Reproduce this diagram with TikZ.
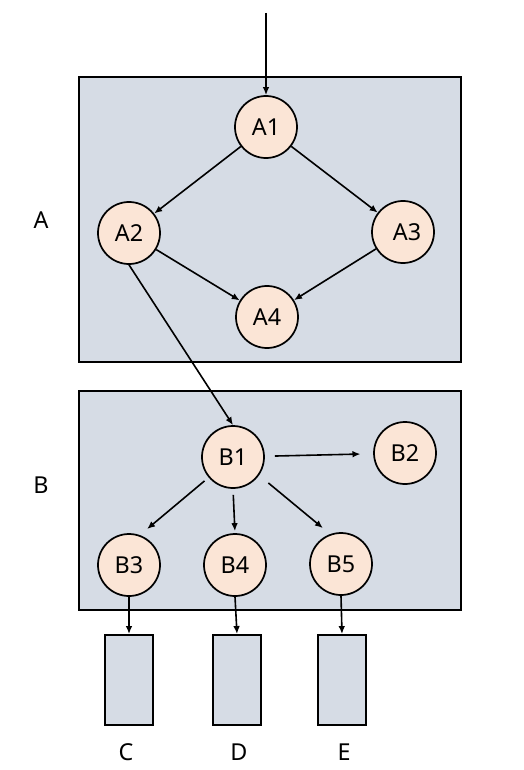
\documentclass[tikz,border=0pt]{standalone}
\usepackage{fontspec}
\setmainfont{Noto Sans}
\usetikzlibrary{arrows.meta}
\definecolor{boxfill}{HTML}{D6DCE5}
\definecolor{nodefill}{HTML}{FBE5D6}

\begin{document}
\begin{tikzpicture}[x=0.75pt,y=-0.75pt,
	state/.style={circle,draw=black,line width=1.3pt,fill=nodefill,minimum size=46.5pt,inner sep=0pt,font=\fontsize{17.5}{20}\selectfont},
	group/.style={draw=black,line width=1.6pt,fill=boxfill},
	outbox/.style={rectangle,draw=black,line width=1.4pt,fill=boxfill,minimum width=36pt,minimum height=67.5pt,inner sep=0pt},
	tag/.style={font=\fontsize{17.5}{20}\selectfont},
	link/.style={-{Latex[length=6pt,width=5pt]},line width=1.2pt}]
	\useasboundingbox (0,0) rectangle (524,770);
	% groups
	\draw[group] (79,77) rectangle (461,362);
	\draw[group] (79,391) rectangle (461,610);
	\node[tag] (labA) at (41,220) {A};
	\node[tag] (labB) at (41,485) {B};
	% states of A
	\coordinate (in) at (266,13);
	\node[state] (A1) at (266,127) {A1};
	\node[state] (A2) at (129,233) {A2};
	\node[state] (A3) at (403,232) {\hspace{6pt}A3};
	\node[state] (A4) at (267,317) {A4};
	% states of B
	\node[state] (B1) at (233,457) {B1};
	\node[state] (B2) at (405,453) {B2};
	\node[state] (B3) at (129,565) {B3};
	\node[state] (B4) at (235,565) {B4};
	\node[state] (B5) at (341,564) {B5};
	% outputs
	\node[outbox] (C) at (129,680) {};
	\node[outbox] (D) at (237,680) {};
	\node[outbox] (E) at (342,680) {};
	\node[tag] (labC) at (126,752) {C};
	\node[tag] (labD) at (239,752) {D};
	\node[tag] (labE) at (344,752) {E};
	% links
	\draw[link] (in) -- (A1);
	\draw[link] (A1) -- (A2);
	\draw[link] (A1) -- (A3);
	\draw[link] (A2) -- (A4);
	\draw[link] (A3) -- (A4);
	\draw[link] (A2.south) -- (B1.north);
	\draw[link,shorten <=7.5pt,shorten >=9.5pt] (B1) -- (B2);
	\draw[link,shorten <=4pt,shorten >=7pt] (B1.220) -- (B3.70);
	\draw[link,shorten <=4.5pt,shorten >=1.5pt] (B1.south) -- (B4.north);
	\draw[link,shorten <=9pt,shorten >=7pt] (B1.-35) -- (B5.110);
	\draw[link] (B3.south) -- (C.north);
	\draw[link] (B4.south) -- (D.north);
	\draw[link] (B5.south) -- (E.north);
\end{tikzpicture}
\end{document}
